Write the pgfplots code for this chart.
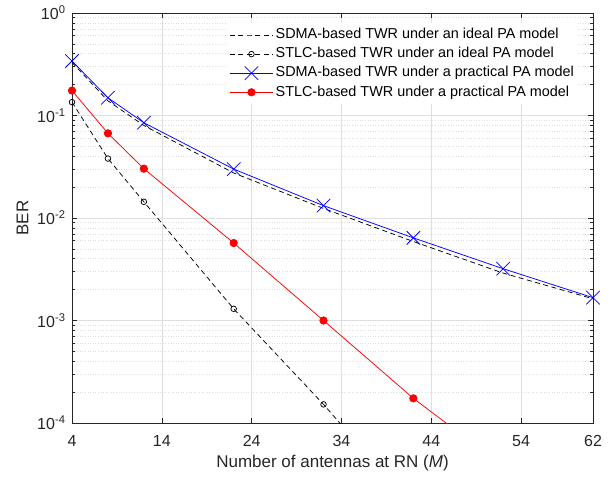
\documentclass[border=0pt]{standalone}
\usepackage{fontspec}
\setmainfont{Liberation Sans}
\usepackage{pgfplots}
\pgfplotsset{compat=1.18}
\definecolor{axgray}{RGB}{38,38,38}
\definecolor{gridgray}{RGB}{223,223,223}
\begin{document}
\begin{tikzpicture}
\begin{axis}[
  scale only axis, width=521bp, height=410bp,
  ymode=log, xmin=4, xmax=62, ymin=1e-4, ymax=1,
  xtick={4,14,24,34,44,54,62},
  ytick={1e-4,1e-3,1e-2,1e-1,1},
  yticklabels={10\textsuperscript{-4},10\textsuperscript{-3},10\textsuperscript{-2},10\textsuperscript{-1},10\textsuperscript{0}},
  minor x tick num=0,
  xmajorgrids, ymajorgrids, yminorgrids,
  major grid style={color=gridgray, line width=0.6bp},
  minor grid style={color=gridgray, line width=0.6bp, dotted},
  axis line style={color=axgray, line width=0.7bp},
  tick style={color=axgray, line width=0.6bp},
  major tick length=5bp, minor tick length=3bp,
  tick align=inside,
  /pgf/number format/assume math mode=true,
  tick label style={font=\fontsize{16bp}{18bp}\selectfont, color=axgray},
  xticklabel style={yshift=-9bp},
  yticklabel style={xshift=-3bp},
  label style={font=\fontsize{17bp}{20bp}\selectfont, color=axgray},
  xlabel={Number of antennas at RN (\textit{M})},
  ylabel={BER},
  xlabel style={at={(axis description cs:0.5,-0.097)}, anchor=center},
  ylabel style={at={(axis description cs:-0.095,0.5)}, anchor=center},
  legend style={at={(0.972,0.975)}, anchor=north east, draw=none, fill=white,
    font=\fontsize{14.4bp}{17bp}\selectfont, row sep=0pt, inner sep=2bp,
    nodes={text height=11bp, text depth=3.5bp, inner sep=2.3bp}},
  legend cell align=left,
  legend image code/.code={\draw[mark repeat=2,mark phase=2] plot coordinates {(-4bp,0bp) (17.5bp,0bp) (39bp,0bp)};},
  every axis plot/.append style={line width=0.75bp},
  clip mode=individual,
]
\addplot[black, dash pattern=on 5bp off 3.5bp] coordinates {
 (4,0.33) (8,0.139) (12,0.080) (22,0.0275) (32,0.0124) (42,0.0059) (52,0.0029) (62,0.00163)};
\addlegendentry{SDMA-based TWR under an ideal PA model}
\addplot[black, dash pattern=on 5bp off 3.5bp, mark=o, mark size=2.8bp, mark options={solid, line width=0.75bp}] coordinates {
 (4,0.135) (8,0.038) (12,0.0144) (22,0.0013) (32,0.000152) (42,0.000015)};
\addlegendentry{STLC-based TWR under an ideal PA model}
\addplot[blue, mark=x, mark size=9.5bp, mark options={solid}] coordinates {
 (4,0.34) (8,0.149) (12,0.085) (22,0.030) (32,0.0132) (42,0.0064) (52,0.0032) (62,0.00167)};
\addlegendentry{SDMA-based TWR under a practical PA model}
\addplot[red, mark=*, mark size=3.7bp, mark options={solid, fill=red}] coordinates {
 (4,0.175) (8,0.067) (12,0.0303) (22,0.0057) (32,0.0010) (42,0.000174) (52,0.000038)};
\addlegendentry{STLC-based TWR under a practical PA model}
\end{axis}
\path[draw=none] ([shift={(-72bp,-55bp)}]current axis.south west) rectangle ([shift={(20bp,13bp)}]current axis.north east);
\end{tikzpicture}
\end{document}
